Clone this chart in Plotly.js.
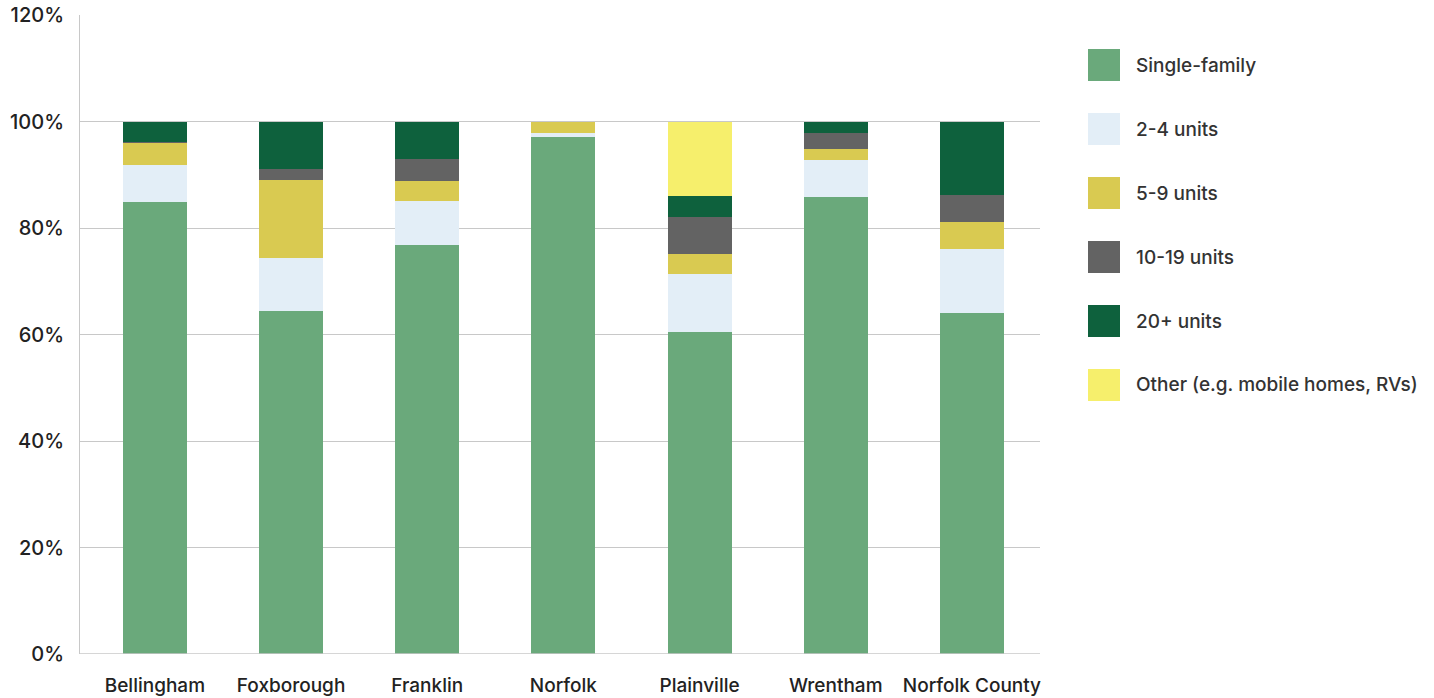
<!DOCTYPE html>
<html>
<head>
<meta charset="utf-8">
<script src="https://cdn.plot.ly/plotly-3.0.1.min.js"></script>
<style>
html,body{margin:0;padding:0;background:#fff;}
#chart{width:1434px;height:698px;}
</style>
</head>
<body>
<div id="chart"></div>
<script>
const categories = ["Bellingham", "Foxborough", "Franklin", "Norfolk", "Plainville", "Wrentham", "Norfolk County"];
const seriesNames = ["Single-family", "2-4 units", "5-9 units", "10-19 units", "20+ units", "Other (e.g. mobile homes, RVs)"];
const singleFamily = [84.8, 64.4, 76.9, 97.0, 60.4, 85.9, 64.0];
const units2to4    = [7.1, 9.9, 8.1, 0.9, 10.9, 6.9, 12.0];
const units5to9    = [4.0, 14.8, 3.9, 2.1, 3.9, 2.1, 5.1];
const units10to19  = [0.2, 1.9, 4.1, 0, 6.9, 3.0, 5.1];
const units20plus  = [3.9, 9.0, 7.0, 0, 3.9, 2.1, 13.8];
const other        = [0, 0, 0, 0, 14.0, 0, 0];
const yTickVals = [0, 20, 40, 60, 80, 100, 120];
const yTickText = ["0%", "20%", "40%", "60%", "80%", "100%", "120%"];

const seriesValues = [singleFamily, units2to4, units5to9, units10to19, units20plus, other];
const colors = ["#6aa97b", "#e3eef7", "#d9ca51", "#636363", "#0e613d", "#f6ef6c"];
const FONT = "Inter, 'Noto Sans', sans-serif";

const traces = seriesValues.map((vals, i) => ({
  type: "bar",
  name: seriesNames[i],
  x: categories.map((c, k) => k),
  y: vals,
  width: 0.47,
  marker: {color: colors[i], line: {width: 0}},
  hoverinfo: "x+y+name",
  showlegend: false
}));

const shapes = [];
const annotations = [];
const legX = 1088, legY0 = 65, legStep = 64, sw = 32;
seriesNames.forEach((n, i) => {
  const cy = legY0 + i * legStep;
  shapes.push({
    type: "rect", xref: "paper", yref: "paper",
    x0: (legX - 80) / 960, x1: (legX + sw - 80) / 960,
    y0: (654 - (cy + sw / 2)) / 639, y1: (654 - (cy - sw / 2)) / 639,
    fillcolor: colors[i], line: {width: 0}
  });
  annotations.push({
    xref: "paper", yref: "paper",
    x: (1134 - 80) / 960, y: (654 - cy) / 639,
    xanchor: "left", yanchor: "middle",
    text: n, showarrow: false,
    font: {family: FONT, size: 19, weight: 500, color: "#333"}
  });
});

const layout = {
  width: 1434, height: 698,
  margin: {l: 80, r: 394, t: 15, b: 44},
  paper_bgcolor: "#fff", plot_bgcolor: "#fff",
  barmode: "stack",
  showlegend: false,
  font: {family: FONT, size: 19, weight: 500, color: "#222"},
  xaxis: {
    range: [-0.55, 6.5],
    tickvals: categories.map((c, k) => k),
    ticktext: categories,
    showgrid: false, zeroline: false,
    showline: false,
    ticks: "outside", ticklen: 14, tickcolor: "rgba(0,0,0,0)",
    tickfont: {family: FONT, size: 19, weight: 500, color: "#222"},
    fixedrange: true
  },
  yaxis: {
    range: [0, 120],
    tickvals: yTickVals,
    ticktext: yTickText,
    showgrid: true, gridcolor: "#c8c8c8", gridwidth: 1,
    zeroline: false,
    showline: true, linecolor: "#c8c8c8", linewidth: 1,
    ticks: "outside", ticklen: 11, tickcolor: "rgba(0,0,0,0)",
    tickfont: {family: FONT, size: 20, weight: 500, color: "#222"},
    fixedrange: true
  },
  shapes: shapes.concat([{
    type: "line", xref: "paper", yref: "y", x0: 0, x1: 1, y0: 0, y1: 0,
    line: {color: "#c8c8c8", width: 1.5}, layer: "above"
  }]),
  annotations: annotations
};

Plotly.newPlot("chart", traces, layout, {displayModeBar: false, staticPlot: true});
</script>
</body>
</html>
